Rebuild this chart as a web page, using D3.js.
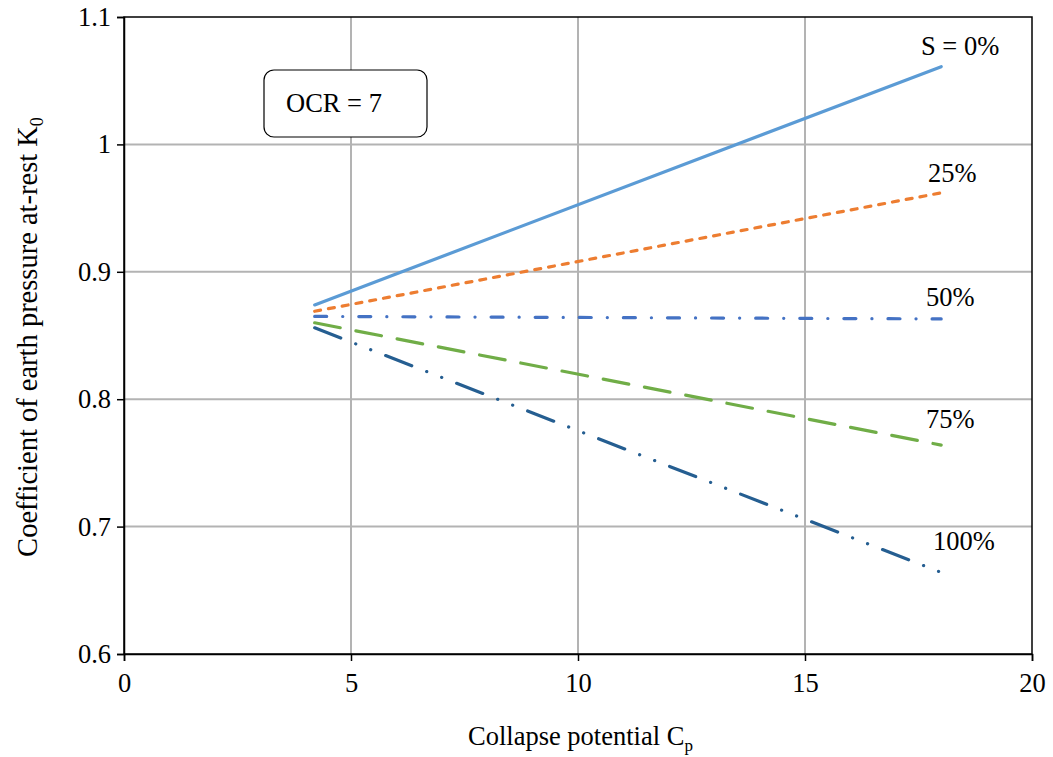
<!DOCTYPE html>
<html><head><meta charset="utf-8">
<script src="https://cdn.jsdelivr.net/npm/d3@7"></script>
<style>body{margin:0;background:#fff;} svg{display:block;font-family:"Liberation Serif","Times New Roman",serif;}</style>
</head><body>
<svg id="c" width="1053" height="757"></svg>
<script>
const cp = [4.2, 18];
const s0 = [0.874, 1.061];
const s25 = [0.869, 0.962];
const s50 = [0.865, 0.863];
const s75 = [0.860, 0.764];
const s100 = [0.856, 0.664];
const seriesNames = ["S = 0%", "25%", "50%", "75%", "100%"];
const xTicks = [0, 5, 10, 15, 20];
const yTicks = [0.6, 0.7, 0.8, 0.9, 1.0, 1.1];

const FS = 26.5;
const svg = d3.select("#c");
const L = 124, R = 1032, T = 17, B = 654;
const x = d3.scaleLinear().domain([0, 20]).range([L, R]);
const y = d3.scaleLinear().domain([0.6, 1.1]).range([B, T]);

// grid
svg.append("g").selectAll("line").data(xTicks.slice(1, -1)).join("line")
  .attr("x1", d => x(d)).attr("x2", d => x(d)).attr("y1", T).attr("y2", B)
  .attr("stroke", "#b3b3b3").attr("stroke-width", 2);
svg.append("g").selectAll("line").data(yTicks.slice(1, -1)).join("line")
  .attr("y1", d => y(d)).attr("y2", d => y(d)).attr("x1", L).attr("x2", R)
  .attr("stroke", "#b3b3b3").attr("stroke-width", 2);

// frame
svg.append("rect").attr("x", L).attr("y", T).attr("width", R - L).attr("height", B - T)
  .attr("fill", "none").attr("stroke", "#000").attr("stroke-width", 1.5);

// axes
const xa = svg.append("g").attr("transform", `translate(0,${B})`)
  .call(d3.axisBottom(x).tickValues(xTicks).tickSize(7).tickPadding(12).tickFormat(d3.format("d")));
const ya = svg.append("g").attr("transform", `translate(${L},0)`)
  .call(d3.axisLeft(y).tickValues(yTicks).tickSize(7).tickPadding(6).tickFormat(d => d === 1 ? "1" : d3.format(".1f")(d)));
[xa, ya].forEach(a => {
  a.select(".domain").attr("stroke", "#000").attr("stroke-width", 1.5);
  a.selectAll(".tick line").attr("stroke", "#000").attr("stroke-width", 1.5);
  a.selectAll("text").attr("font-family", "Liberation Serif").attr("font-size", FS).attr("fill", "#000");
});

// series
const series = [
  {name: seriesNames[0], vals: s0, color: "#5B9BD5", dash: null, lx: 921, ly: 55},
  {name: seriesNames[1], vals: s25, color: "#ED7D31", dash: "6,8", lx: 928, ly: 182},
  {name: seriesNames[2], vals: s50, color: "#4472C4", dash: "12,16,0.1,16", lx: 926, ly: 306},
  {name: seriesNames[3], vals: s75, color: "#70AD47", dash: "26,16", lx: 926, ly: 428},
  {name: seriesNames[4], vals: s100, color: "#255E91", dash: "28,16,0.1,16,0.1,16", lx: 933, ly: 550}
];
const line = d3.line().x(d => x(d[0])).y(d => y(d[1]));
series.forEach(s => {
  svg.append("path").datum(cp.map((c, i) => [c, s.vals[i]]))
    .attr("d", line).attr("fill", "none").attr("stroke", s.color)
    .attr("stroke-width", 3.2).attr("stroke-linecap", "round")
    .attr("stroke-dasharray", s.dash);
  svg.append("text").attr("x", s.lx).attr("y", s.ly).attr("font-size", FS)
    .attr("fill", "#000").text(s.name);
});

// OCR box
svg.append("rect").attr("x", 264).attr("y", 70).attr("width", 163).attr("height", 67)
  .attr("rx", 10).attr("fill", "#fff").attr("stroke", "#000").attr("stroke-width", 1.2);
svg.append("text").attr("x", 286).attr("y", 112)
  .attr("font-size", FS).text("OCR = 7");

// axis titles
const xt = svg.append("text").attr("x", 468).attr("y", 745).attr("font-size", FS);
xt.append("tspan").text("Collapse potential C");
xt.append("tspan").attr("font-size", 17).attr("dy", 6).text("p");

const yt = svg.append("text").attr("transform", "translate(37,337) rotate(-90)").attr("text-anchor", "middle").attr("font-size", 28.5);
yt.append("tspan").text("Coefficient of earth pressure at-rest K");
yt.append("tspan").attr("font-size", 18).attr("dy", 6).text("0");
</script>
</body></html>
